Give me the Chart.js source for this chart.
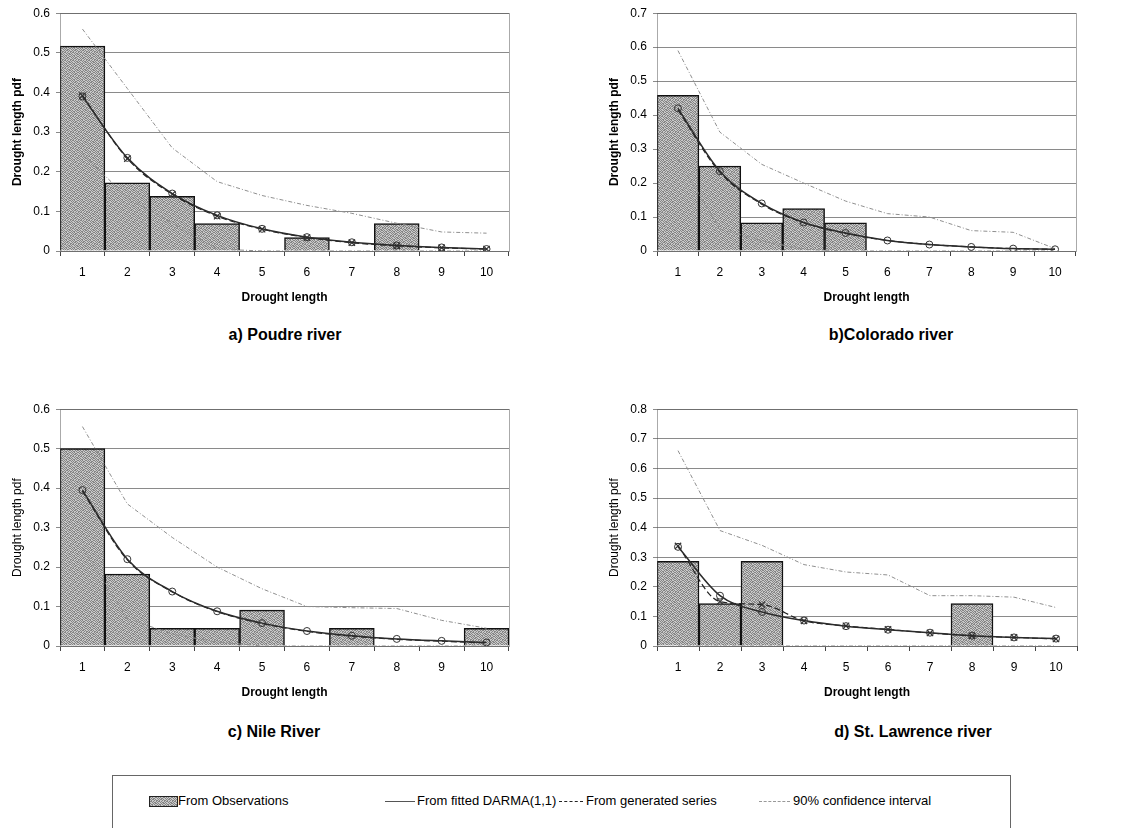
<!DOCTYPE html>
<html lang="en">
<head>
<meta charset="UTF-8">
<title>Drought length pdf</title>
<script src="https://cdn.jsdelivr.net/npm/chart.js"></script>
<style>
  body { margin: 0; background: #fff; font-family: "Liberation Sans", Arial, sans-serif; }
  #page { position: relative; width: 1129px; height: 828px; overflow: hidden; }
  canvas { position: absolute; }
  .caption { position: absolute; font-weight: bold; font-size: 16px; transform: translate(-50%, -50%); white-space: nowrap; }
  #legend { position: absolute; left: 112px; top: 775px; width: 897px; height: 70px; border: 1px solid #666; }
  .item { position: absolute; top: 17px; font-size: 13px; line-height: 16px; white-space: nowrap; }
  .swatch { position: absolute; top: 20px; width: 27px; height: 9px; border: 1px solid #222; }
  .line { position: absolute; top: 25px; height: 0; }
</style>
</head>
<body>
<div id="page">
  <canvas id="poudre" width="520" height="305" style="left:0;top:0"></canvas>
  <canvas id="colorado" width="490" height="305" style="left:597px;top:0"></canvas>
  <canvas id="nile" width="520" height="304" style="left:0;top:396px"></canvas>
  <canvas id="lawrence" width="490" height="304" style="left:597px;top:396px"></canvas>

  <div class="caption" style="left:285px;top:335px">a) Poudre river</div>
  <div class="caption" style="left:891px;top:335px">b)Colorado river</div>
  <div class="caption" style="left:274px;top:732px">c) Nile River</div>
  <div class="caption" style="left:913px;top:732px">d) St. Lawrence river</div>

  <div id="legend">
    <div class="swatch" id="obsSwatch" style="left:36px"></div>
    <div class="item" style="left:65px">From Observations</div>
    <div class="line" style="left:272px;width:30px;border-top:1px solid #555"></div>
    <div class="item" style="left:304px">From fitted DARMA(1,1)</div>
    <div class="line" style="left:446px;width:24px;border-top:1.5px dashed #222"></div>
    <div class="item" style="left:473px">From generated series</div>
    <div class="line" style="left:646px;width:31px;border-top:1px dashed #999"></div>
    <div class="item" style="left:680px">90% confidence interval</div>
  </div>
</div>

<script>
  const lengths = ['1', '2', '3', '4', '5', '6', '7', '8', '9', '10'];

  // a) Poudre river
  const poudreObs = [0.517, 0.172, 0.138, 0.069, 0, 0.034, 0, 0.069, 0, 0];
  const poudreFit = [0.39, 0.235, 0.145, 0.09, 0.056, 0.035, 0.022, 0.014, 0.009, 0.005];
  const poudreGen = [0.392, 0.233, 0.143, 0.088, 0.055, 0.034, 0.021, 0.013, 0.008, 0.005];
  const poudreUpper = [0.56, 0.41, 0.26, 0.175, 0.14, 0.115, 0.095, 0.07, 0.048, 0.045];
  const poudreLower = [0.245, 0.135, 0.07, 0.005, 0, 0, 0, 0, 0, 0];

  // b) Colorado river
  const coloradoObs = [0.458, 0.25, 0.083, 0.125, 0.083, 0, 0, 0, 0, 0];
  const coloradoFit = [0.42, 0.235, 0.14, 0.084, 0.053, 0.031, 0.019, 0.012, 0.007, 0.005];
  const coloradoGen = [0.415, 0.232, 0.138, 0.083, 0.052, 0.031, 0.019, 0.012, 0.007, 0.005];
  const coloradoUpper = [0.59, 0.35, 0.255, 0.2, 0.147, 0.11, 0.1, 0.06, 0.055, 0.007];
  const coloradoLower = [0.27, 0.065, 0.03, 0.005, 0, 0, 0, 0, 0, 0];

  // c) Nile River
  const nileObs = [0.5, 0.182, 0.045, 0.045, 0.091, 0, 0.045, 0, 0, 0.045];
  const nileFit = [0.395, 0.22, 0.138, 0.088, 0.058, 0.038, 0.026, 0.018, 0.013, 0.009];
  const nileGen = [0.392, 0.218, 0.137, 0.087, 0.057, 0.037, 0.025, 0.017, 0.012, 0.008];
  const nileUpper = [0.556, 0.36, 0.275, 0.2, 0.145, 0.1, 0.097, 0.095, 0.065, 0.045];
  const nileLower = [0.25, 0.07, 0.03, 0.01, 0, 0, 0, 0, 0, 0];

  // d) St. Lawrence river
  const lawrenceObs = [0.286, 0.143, 0.286, 0, 0, 0, 0, 0.143, 0, 0];
  const lawrenceFit = [0.335, 0.17, 0.115, 0.086, 0.067, 0.055, 0.045, 0.035, 0.029, 0.025];
  const lawrenceGen = [0.338, 0.15, 0.14, 0.085, 0.068, 0.056, 0.044, 0.034, 0.029, 0.024];
  const lawrenceUpper = [0.66, 0.39, 0.34, 0.275, 0.25, 0.24, 0.17, 0.17, 0.165, 0.13];
  const lawrenceLower = [0, 0, 0, 0, 0, 0, 0, 0, 0, 0];

  Chart.defaults.font.family = '"Liberation Sans", Arial, sans-serif';
  Chart.defaults.color = '#000';

  // speckled grey tile for the observation bars (1 = dark pixel)
  const speckle = [
    '10100110',
    '01011001',
    '10110100',
    '01001011',
    '11010010',
    '00101101',
    '10010110',
    '01101001'
  ];
  const tile = document.createElement('canvas');
  tile.width = tile.height = 8;
  const tg = tile.getContext('2d');
  speckle.forEach((row, y) => {
    [...row].forEach((bit, x) => {
      tg.fillStyle = bit === '1' ? '#858585' : '#c8c8c8';
      tg.fillRect(x, y, 1, 1);
    });
  });
  document.getElementById('obsSwatch').style.background = 'url(' + tile.toDataURL() + ')';

  // dotted frame round the plot area
  const plotFrame = {
    id: 'plotFrame',
    afterDraw(chart) {
      const { ctx, chartArea: a } = chart;
      ctx.save();
      ctx.strokeStyle = '#555';
      ctx.lineWidth = 1;
      ctx.setLineDash([1, 1]);
      ctx.strokeRect(Math.round(a.left) + 0.5, Math.round(a.top) + 0.5, Math.round(a.width), Math.round(a.height));
      ctx.restore();
    }
  };

  function panel(id, obs, fit, gen, upper, lower, yMax, opts) {
    const ctx = document.getElementById(id).getContext('2d');
    const conf = { type: 'line', borderColor: '#8f8f8f', borderWidth: 1, borderDash: [4, 2, 1, 2], pointRadius: 0, order: 3 };
    return new Chart(ctx, {
      type: 'bar',
      data: {
        labels: lengths,
        datasets: [
          { type: 'line', data: fit, borderColor: '#2b2b2b', borderWidth: 1.5, cubicInterpolationMode: 'monotone',
            pointStyle: 'circle', pointRadius: 3.5, pointBorderColor: '#333', pointBackgroundColor: 'rgba(0,0,0,0)',
            pointBorderWidth: 1, order: 1 },
          { type: 'line', data: gen, borderColor: '#222', borderWidth: 1.2, borderDash: [6, 3], cubicInterpolationMode: 'monotone',
            pointStyle: 'crossRot', pointRadius: opts.cross ? 4.5 : 0, pointBorderColor: '#333', pointBorderWidth: 1.2, order: 2 },
          Object.assign({ data: upper }, conf),
          Object.assign({ data: lower }, conf),
          { data: obs, backgroundColor: ctx.createPattern(tile, 'repeat'), borderColor: '#111', borderWidth: 1.5,
            borderSkipped: 'bottom', barPercentage: 1, categoryPercentage: 1, order: 5 }
        ]
      },
      options: {
        responsive: false,
        animation: false,
        layout: { padding: { top: opts.top, right: opts.right, left: 0, bottom: 0 } },
        plugins: { legend: { display: false }, tooltip: { enabled: false } },
        scales: {
          x: {
            grid: { offset: true, drawOnChartArea: false, tickLength: 5, color: '#444' },
            border: { display: false },
            ticks: { padding: 9, font: { size: 12 } },
            title: { display: true, text: 'Drought length', font: { size: 12, weight: 'bold' }, padding: 0 },
            afterFit(s) { s.height = 54; }
          },
          y: {
            min: 0,
            max: yMax,
            grid: { color: '#8a8a8a', tickLength: 4 },
            border: { display: false },
            ticks: { stepSize: 0.1, padding: 6, font: { size: 12 } },
            title: { display: true, text: 'Drought length pdf', font: { size: 12, weight: opts.boldY ? 'bold' : 'normal' }, padding: { top: 10 } },
            afterFit(s) { s.width = 60; }
          }
        }
      },
      plugins: [plotFrame]
    });
  }

  panel('poudre', poudreObs, poudreFit, poudreGen, poudreUpper, poudreLower, 0.6, { top: 12, right: 11, cross: true, boldY: true });
  panel('colorado', coloradoObs, coloradoFit, coloradoGen, coloradoUpper, coloradoLower, 0.7, { top: 10, right: 11, cross: false, boldY: true });
  panel('nile', nileObs, nileFit, nileGen, nileUpper, nileLower, 0.6, { top: 11, right: 11, cross: false, boldY: false });
  panel('lawrence', lawrenceObs, lawrenceFit, lawrenceGen, lawrenceUpper, lawrenceLower, 0.8, { top: 11, right: 10, cross: true, boldY: false });
</script>
</body>
</html>
